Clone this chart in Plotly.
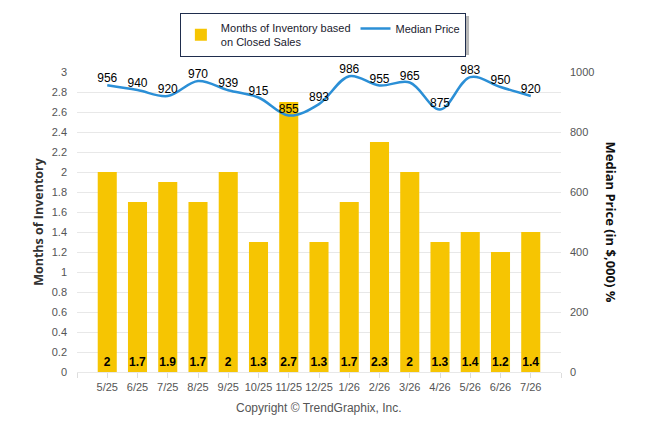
import plotly.graph_objects as go

# Data
months = ['5/25', '6/25', '7/25', '8/25', '9/25', '10/25', '11/25', '12/25',
          '1/26', '2/26', '3/26', '4/26', '5/26', '6/26', '7/26']
inventory = [2, 1.7, 1.9, 1.7, 2, 1.3, 2.7, 1.3, 1.7, 2.3, 2, 1.3, 1.4, 1.2, 1.4]
median_price = [956, 940, 920, 970, 939, 915, 855, 893, 986, 955, 965, 875, 983, 950, 920]

x_pos = list(range(len(months)))

bar_color = '#f6c502'
line_color = '#2b8fd6'
tick_color = '#555555'
grid_color = '#e8e8e8'

fig = go.Figure()

# Months of inventory bars, value at the bottom of each bar
fig.add_trace(go.Bar(
    x=x_pos,
    y=inventory,
    name='Months of Inventory based<br>on Closed Sales',
    marker=dict(color=bar_color, line=dict(width=0)),
    width=0.63,
    text=[f'{v:g}' for v in inventory],
    textposition='inside',
    insidetextanchor='start',
    textangle=0,
    constraintext='none',
    textfont=dict(family='Liberation Sans, Arial, sans-serif', size=12, color='black', weight='bold'),
    yaxis='y',
))

# Median price line (smoothed) on the right axis
fig.add_trace(go.Scatter(
    x=x_pos,
    y=median_price,
    name='Median Price',
    mode='lines+text',
    line=dict(color=line_color, width=2.5, shape='spline', smoothing=1),
    text=[str(v) for v in median_price],
    textposition='top center',
    textfont=dict(family='Liberation Sans, Arial, sans-serif', size=12, color='black'),
    cliponaxis=False,
    yaxis='y2',
))

# the page puts the figure 8px in from the corner, so the figure is 8px smaller
fig.update_layout(
    width=638,
    height=426,
    margin=dict(l=69, r=85, t=64, b=62, autoexpand=False),
    plot_bgcolor='white',
    paper_bgcolor='white',
    font=dict(family='Liberation Sans, Arial, sans-serif', size=11, color=tick_color),
    showlegend=True,
    legend=dict(
        orientation='h',
        x=0.508,
        xanchor='center',
        y=1.197,
        yanchor='top',
        bordercolor='#1f2d4d',
        borderwidth=1,
        bgcolor='white',
        font=dict(size=11, color='#1a1a2e'),
        traceorder='normal',
        itemwidth=30,
    ),
    xaxis=dict(
        range=[-1, 15],
        tickvals=list(range(-1, 16)),
        ticktext=[''] + months + [''],
        showgrid=False,
        zeroline=False,
        showline=True,
        linecolor=grid_color,
        linewidth=1,
        ticks='outside',
        ticklen=5,
        tickcolor='#dddddd',
        tickfont=dict(size=11, color=tick_color),
        automargin=False,
    ),
    yaxis=dict(
        range=[0, 3],
        dtick=0.2,
        showgrid=True,
        gridcolor=grid_color,
        zeroline=False,
        ticklabelstandoff=9,
        tickfont=dict(size=11, color=tick_color),
        automargin=False,
        title=dict(
            text='Months of Inventory',
            font=dict(family='Open Sans, sans-serif', size=12.5, color='#333333', weight='bold'),
            standoff=5,
        ),
    ),
    yaxis2=dict(
        range=[0, 1000],
        dtick=200,
        overlaying='y',
        side='right',
        showgrid=False,
        zeroline=False,
        ticklabelstandoff=8,
        tickfont=dict(size=11, color=tick_color),
        automargin=False,
    ),
)

# grey drop shadow behind the legend box
fig.add_shape(
    type='rect',
    xref='paper', yref='paper',
    x0=0.221, x1=0.810, y0=1.057, y1=1.187,
    fillcolor='#b8b8b8',
    line=dict(width=0),
    layer='above',
)

# Right axis title reads top to bottom
fig.add_annotation(
    text='Median Price (in $,000) %',
    xref='paper', yref='paper',
    x=1.127, y=0.5,
    textangle=90,
    showarrow=False,
    font=dict(family='Open Sans, sans-serif', size=13, color='#111111', weight='bold'),
)

fig.add_annotation(
    text='Copyright © TrendGraphix, Inc.',
    xref='paper', yref='paper',
    x=0.5, y=-0.12,
    yanchor='middle',
    showarrow=False,
    font=dict(size=12, color=tick_color),
)

fig.write_html('out.html')
